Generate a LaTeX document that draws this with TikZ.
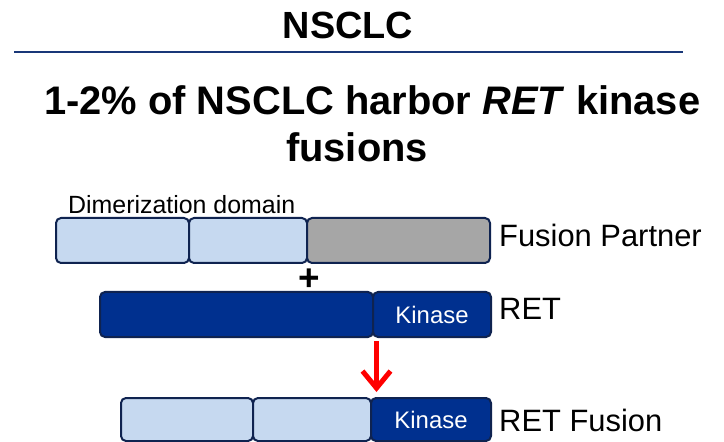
\documentclass[tikz,border=0pt]{standalone}
\usepackage{fontspec}
\setmainfont{Liberation Sans}
\usetikzlibrary{arrows.meta}
\definecolor{lightb}{RGB}{198,217,240}
\definecolor{grayb}{RGB}{166,166,166}
\definecolor{darkb}{RGB}{0,48,143}
\definecolor{edgeb}{RGB}{15,35,80}
\definecolor{rulec}{RGB}{25,55,120}
\begin{document}
\begin{tikzpicture}[x=1bp,y=-1bp,
  seg/.style={draw=edgeb,line width=2bp,rounded corners=5bp,anchor=north west,minimum height=45bp,inner sep=0pt,outer sep=0pt},
  light/.style={seg,fill=lightb},
  grey/.style={seg,fill=grayb},
  dark/.style={seg,fill=darkb},
  kin/.style={dark,text=white,font=\fontsize{24}{28}\selectfont},
  lab/.style={anchor=base west,inner sep=0pt,font=\fontsize{31}{36}\selectfont},
  head/.style={inner sep=0pt,font=\bfseries\fontsize{40}{46}\selectfont},
]
\useasboundingbox (0,0) rectangle (724,442);
% title and rule
\node[head,anchor=base,font=\bfseries\fontsize{38}{44}\selectfont] (title) at (348,39) {NSCLC};
\coordinate (r1) at (14,52);
\coordinate (r2) at (683,52);
\draw[rulec,line width=2.5bp] (r1) -- (r2);
\node[head,anchor=base west] (sub1) at (44,115) {1-2\% of NSCLC harbor \textit{RET} kinase};
\node[head,anchor=base] (sub2) at (357,162) {fusions};
% fusion partner row
\node[anchor=base west,inner sep=0pt,font=\fontsize{25}{30}\selectfont] (dim) at (68,214) {Dimerization domain};
\node[light,minimum width=133bp] (fp1) at (56,218) {};
\node[light,minimum width=118bp] (fp2) at (189,218) {};
\node[grey,minimum width=183bp] (fp3) at (307,218) {};
\node[lab] (fpl) at (499,247) {Fusion Partner};
% plus
\node[inner sep=0pt,font=\bfseries\fontsize{37}{40}\selectfont] (plus) at (309,280) {+};
% RET row
\node[dark,minimum width=273bp] (ret1) at (100,292) {};
\node[kin,minimum width=118bp] (ret2) at (373,292) {Kinase};
\node[lab] (retl) at (499,320) {RET};
% arrow
\coordinate (a1) at (376.5,341);
\coordinate (a2) at (376.5,392);
\draw[red,line width=5bp,-{Straight Barb[length=17bp,width=28bp]}] (a1) -- (a2);
% RET fusion row
\node[light,minimum width=132bp,minimum height=43bp] (fu1) at (121,398) {};
\node[light,minimum width=118bp,minimum height=43bp] (fu2) at (253,398) {};
\node[kin,minimum width=120bp,minimum height=43bp] (fu3) at (371,398) {Kinase};
\node[lab] (fusl) at (499,431) {RET Fusion};
\end{tikzpicture}
\end{document}
